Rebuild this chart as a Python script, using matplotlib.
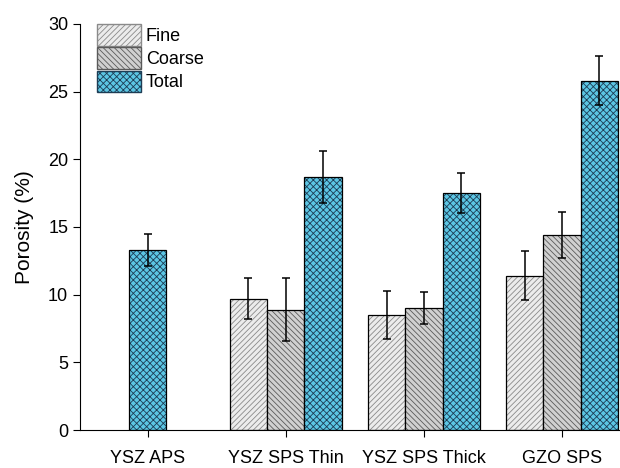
import numpy as np
import matplotlib
matplotlib.use('Agg')
from matplotlib import pyplot as plt
from matplotlib.patches import Patch

plt.rcParams['font.family'] = ['Liberation Sans', 'DejaVu Sans']
plt.rcParams['hatch.linewidth'] = 0.6

groups = ['YSZ APS', 'YSZ SPS Thin', 'YSZ SPS Thick', 'GZO SPS']
fine = [np.nan, 9.7, 8.5, 11.4]
fine_err = [np.nan, 1.5, 1.8, 1.8]
coarse = [np.nan, 8.9, 9.0, 14.4]
coarse_err = [np.nan, 2.3, 1.2, 1.7]
total = [13.3, 18.7, 17.5, 25.8]
total_err = [1.2, 1.9, 1.5, 1.8]

x = np.arange(len(groups))
w = 0.27
# YSZ APS has only the total bar, centred on the tick
tot_pos = x + np.array([0, w, w, w])

fig = plt.figure(figsize=(6.2, 4.68), dpi=100)
ax = fig.add_axes([0.129, 0.081, 0.871, 0.868])

styles = [
    ('Fine', x - w, fine, fine_err, '#ececec', '#8a8a8a', '//////'),
    ('Coarse', x, coarse, coarse_err, '#d0d0d0', '#5a5a5a', '\\\\\\\\\\\\'),
    ('Total', tot_pos, total, total_err, '#5cc6e4', '#1d3d55', 'xxxxx'),
]
handles = []
for lab, pos, vals, err, fc, hc, hatch in styles:
    ax.bar(pos, vals, w, color=fc, edgecolor=hc, hatch=hatch, linewidth=0)
    ax.bar(pos, vals, w, fill=False, edgecolor='black', linewidth=0.9)
    ax.errorbar(pos, vals, yerr=err, fmt='none', ecolor='black',
                elinewidth=1.1, capsize=3, capthick=1.1)
    handles.append(Patch(facecolor=fc, edgecolor=hc, hatch=hatch, label=lab))

ax.set_xlim(-0.49, 3.42)
ax.set_ylim(0, 30)
ax.set_xticks(x)
ax.set_xticklabels(groups, fontsize=13)
ax.set_yticks(np.arange(0, 31, 5))
ax.tick_params(axis='y', labelsize=13, direction='out', length=5)
ax.tick_params(axis='x', direction='out', length=5, pad=9)
ax.spines['top'].set_visible(False)
ax.spines['right'].set_visible(False)
ax.set_ylabel('Porosity (%)', fontsize=15, labelpad=10)

leg = ax.legend(handles=handles, loc='upper left', bbox_to_anchor=(0.0185, 1.017),
                borderaxespad=0, frameon=False, fontsize=13, handlelength=2.4,
                handleheight=1.45, labelspacing=0.1, handletextpad=0.3)

fig.savefig('out.png', dpi=100)
